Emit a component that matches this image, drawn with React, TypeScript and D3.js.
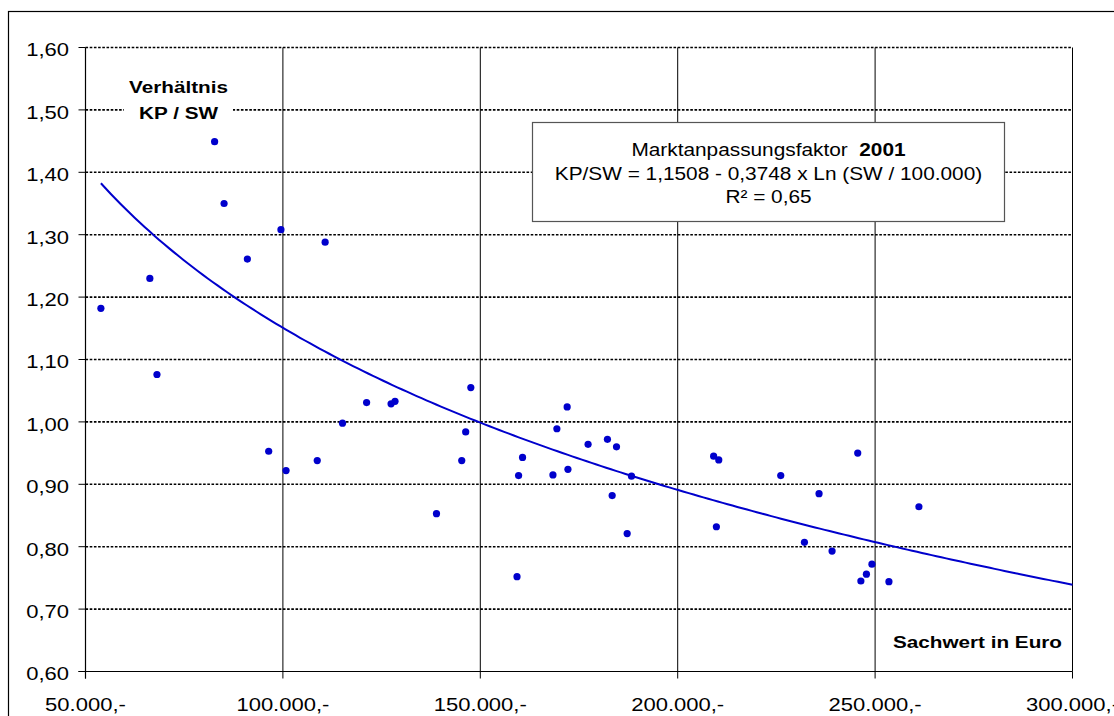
import React from "react";
import * as d3 from "d3";

// Sachwert (Euro) and ratio Kaufpreis / Sachwert for each sale
const sachwert = [
  53900, 66300, 68100, 82700, 85100, 91000, 96400, 99500, 100800, 108700,
  110700, 115100, 121200, 127400, 128400, 138900, 145300, 146300, 147600, 159300,
  159700, 160700, 168400, 169400, 172000, 172200, 177300, 182200, 183400, 184500,
  187200, 188300, 209100, 209800, 210400, 226100, 232100, 235800, 239100, 245600,
  246400, 247800, 249200, 253500, 261100,
];
const verhaeltnis = [
  1.182, 1.23, 1.076, 1.449, 1.35, 1.261, 0.953, 1.308, 0.922, 0.938,
  1.288, 0.998, 1.031, 1.029, 1.033, 0.853, 0.938, 0.984, 1.055, 0.752,
  0.914, 0.943, 0.915, 0.989, 1.024, 0.924, 0.964, 0.972, 0.882, 0.96,
  0.821, 0.913, 0.945, 0.832, 0.939, 0.914, 0.807, 0.885, 0.793, 0.95,
  0.745, 0.756, 0.772, 0.744, 0.864,
];

// Logarithmic trend: KP/SW = a - b * ln(SW / base)
const trendA = 1.1508;
const trendB = 0.3748;
const trendBase = 100000;
const trendEnd = 300000;

const xTicks = [50000, 100000, 150000, 200000, 250000, 300000];
const yTicks = [0.6, 0.7, 0.8, 0.9, 1.0, 1.1, 1.2, 1.3, 1.4, 1.5, 1.6];

const W = 1114;
const H = 716;
const SX = 1.19; // horizontal stretch of the lettering
const BLUE = "#0000cc";
const FONT = "'Liberation Sans', Arial, Helvetica, sans-serif";

const x = d3.scaleLinear().domain([50000, 300000]).range([85.5, 1072.5]);
const y = d3.scaleLinear().domain([0.6, 1.6]).range([671.5, 47.5]);

const de = d3.formatLocale({
  decimal: ",",
  thousands: ".",
  grouping: [3],
  currency: ["", ""],
});
const fmtX = (v: number) => de.format(",.0f")(v) + ",-";
const fmtY = (v: number) => de.format(".2f")(v);

type TProps = {
  x: number;
  y: number;
  anchor?: "start" | "middle" | "end";
  size: number;
  bold?: boolean;
  children: React.ReactNode;
};
const T = ({ x: tx, y: ty, anchor = "start", size, bold, children }: TProps) => (
  <text
    transform={`translate(${tx},${ty}) scale(${SX},1)`}
    textAnchor={anchor}
    fontFamily={FONT}
    fontSize={size}
    fontWeight={bold ? "bold" : "normal"}
    fill="#000"
  >
    {children}
  </text>
);

export default function App() {
  const x0 = d3.min(sachwert) as number;
  const trendPts = d3
    .range(0, 201)
    .map((i) => x0 + ((trendEnd - x0) * i) / 200)
    .map((sw) => [sw, trendA - trendB * Math.log(sw / trendBase)] as [number, number]);
  const line = d3
    .line<[number, number]>()
    .x((d) => x(d[0]))
    .y((d) => y(d[1]));

  const [xl, xr] = x.range();
  const [yb, yt] = y.range();

  return (
    <svg
      width={W}
      height={H}
      style={{ position: "absolute", left: 0, top: 0, display: "block", background: "#fff" }}
    >
      {/* outer chart frame */}
      <rect x={8.5} y={11.5} width={W + 20} height={H + 20} fill="#fff" stroke="#000" strokeWidth={1.2} />

      {/* horizontal dotted gridlines */}
      {yTicks.slice(1).map((v) => (
        <line
          key={"h" + v}
          x1={xl}
          x2={xr}
          y1={y(v)}
          y2={y(v)}
          stroke="#000"
          strokeWidth={1.6}
          strokeDasharray="2.6,1.6"
        />
      ))}
      {/* vertical solid gridlines and right edge */}
      {xTicks.slice(1).map((v) => (
        <line key={"v" + v} x1={x(v)} x2={x(v)} y1={yt} y2={yb} stroke="#000" strokeWidth={1} />
      ))}

      {/* axes */}
      <line x1={xl} x2={xl} y1={yt} y2={yb + 7} stroke="#000" strokeWidth={1.2} />
      <line x1={xl - 7} x2={xr} y1={yb} y2={yb} stroke="#000" strokeWidth={1.2} />
      {yTicks.map((v) => (
        <line key={"yt" + v} x1={xl - 7} x2={xl} y1={y(v)} y2={y(v)} stroke="#000" strokeWidth={1} />
      ))}
      {xTicks.map((v) => (
        <line key={"xt" + v} x1={x(v)} x2={x(v)} y1={yb} y2={yb + 7} stroke="#000" strokeWidth={1} />
      ))}

      {/* tick labels */}
      {yTicks.map((v) => (
        <T key={"yl" + v} x={69} y={y(v) + 8.8} anchor="end" size={18.5}>
          {fmtY(v)}
        </T>
      ))}
      {xTicks.map((v) => (
        <T key={"xl" + v} x={x(v)} y={711} anchor="middle" size={18.5}>
          {fmtX(v)}
        </T>
      ))}

      {/* axis titles */}
      <rect x={124} y={72} width={109} height={52} fill="#fff" />
      <T x={178.5} y={93.3} anchor="middle" size={17.4} bold>
        Verhältnis
      </T>
      <T x={178.5} y={119} anchor="middle" size={17.4} bold>
        KP / SW
      </T>
      <T x={1062} y={648.3} anchor="end" size={17.4} bold>
        Sachwert in Euro
      </T>

      {/* trend curve */}
      <path d={line(trendPts) || ""} fill="none" stroke={BLUE} strokeWidth={2} />

      {/* observations */}
      {sachwert.map((sw, i) => (
        <circle key={"p" + i} cx={x(sw)} cy={y(verhaeltnis[i])} r={3.6} fill={BLUE} />
      ))}

      {/* equation box */}
      <rect x={532.5} y={122.5} width={472} height={99} fill="#fff" stroke="#555" strokeWidth={1.2} />
      <T x={768.5} y={156} anchor="middle" size={17.5}>
        Marktanpassungsfaktor{"\u00a0\u00a0"}
        <tspan fontWeight="bold">2001</tspan>
      </T>
      <T x={768.5} y={179.5} anchor="middle" size={17.5}>
        KP/SW = 1,1508 - 0,3748 x Ln (SW / 100.000)
      </T>
      <T x={768.5} y={202.7} anchor="middle" size={17.5}>
        R² = 0,65
      </T>
    </svg>
  );
}
